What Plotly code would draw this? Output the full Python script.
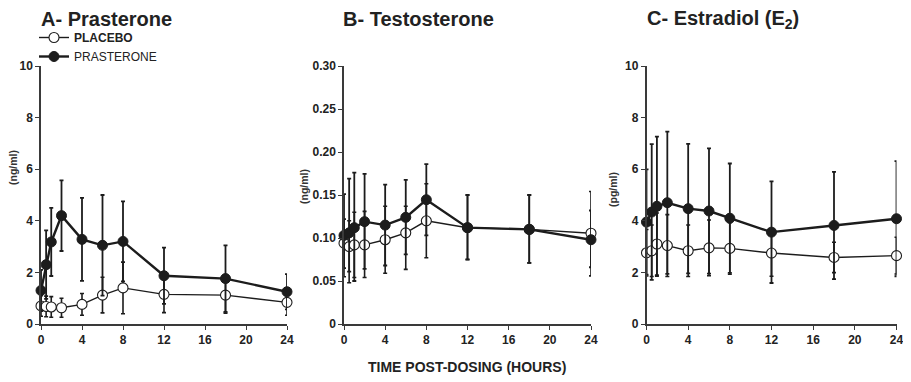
import plotly.graph_objects as go

# ---------------- data ----------------
hours = [0, 0.5, 1, 2, 4, 6, 8, 12, 18, 24]
x_ticks = [0, 4, 8, 12, 16, 20, 24]

panel_titles = ["A- Prasterone", "B- Testosterone", "C- Estradiol (E<sub>2</sub>)"]
y_titles = ["(ng/ml)", "(ng/ml)", "(pg/ml)"]
x_title = "TIME POST-DOSING (HOURS)"
legend_names = ["<b>PLACEBO</b>", "PRASTERONE"]

# Panel A – prasterone (DHEA) serum levels
a_placebo = [0.70, 0.68, 0.66, 0.63, 0.76, 1.12, 1.40, 1.15, 1.12, 0.84]
a_placebo_sd = [0.40, 0.40, 0.40, 0.37, 0.42, 0.69, 1.00, 0.71, 0.70, 0.50]
a_prasterone = [1.30, 2.30, 3.18, 4.20, 3.28, 3.05, 3.20, 1.87, 1.76, 1.25]
a_prasterone_sd = [0.80, 1.33, 1.32, 1.37, 1.61, 1.95, 1.55, 1.09, 1.29, 0.68]
a_yticks = [0, 2, 4, 6, 8, 10]
a_ytext = ["0", "2", "4", "6", "8", "10"]

# Panel B – testosterone
b_placebo = [0.094, 0.090, 0.092, 0.092, 0.098, 0.106, 0.120, 0.112, 0.110, 0.1055]
b_placebo_sd_up = [0.028, 0.030, 0.038, 0.039, 0.039, 0.031, 0.043, 0.038, 0.040, 0.0485]
b_placebo_sd_dn = [0.039, 0.042, 0.038, 0.038, 0.039, 0.0425, 0.043, 0.037, 0.039, 0.0495]
b_prasterone = [0.103, 0.106, 0.112, 0.119, 0.115, 0.124, 0.1445, 0.112, 0.110, 0.098]
b_prasterone_sd_up = [0.048, 0.063, 0.064, 0.0555, 0.047, 0.0435, 0.0415, 0.038, 0.040, 0.034]
b_prasterone_sd_dn = [0.038, 0.045, 0.062, 0.055, 0.047, 0.043, 0.0415, 0.037, 0.039, 0.032]
b_yticks = [0, 0.05, 0.10, 0.15, 0.20, 0.25, 0.30]
b_ytext = ["0", "0.05", "0.10", "0.15", "0.20", "0.25", "0.30"]

# Panel C – estradiol
c_placebo = [2.76, 2.84, 3.10, 3.04, 2.84, 2.95, 2.93, 2.75, 2.58, 2.65]
c_placebo_sd = [0.90, 1.00, 1.20, 1.20, 1.00, 1.08, 1.00, 0.90, 0.59, 0.71]
c_prasterone = [3.95, 4.34, 4.56, 4.70, 4.47, 4.38, 4.10, 3.56, 3.82, 4.08]
c_prasterone_sd = [2.04, 2.63, 2.70, 2.76, 2.51, 2.43, 2.12, 1.97, 2.08, 2.23]
c_yticks = [0, 2, 4, 6, 8, 10]
c_ytext = ["0", "2", "4", "6", "8", "10"]

# ---------------- styling ----------------
# the page body has an 8px margin, so the figure is drawn 8px in from the window edge
OFF = 8
W, H = 911 - OFF, 382 - OFF
PLOT_TOP = 66 - OFF
PLOT_BOT = 324 - OFF
MB = H - PLOT_BOT
PAPER_H = PLOT_BOT
INK = "#1c1c1c"
AXIS = "#3a3a3a"
FONT = "Liberation Sans, Arial, sans-serif"

def px_x(pix):
    return (pix - OFF) / W

def px_y(pix):
    return (PAPER_H - (pix - OFF)) / PAPER_H

x_domains = [[px_x(41), px_x(287)], [px_x(344), px_x(591)], [px_x(646.5), px_x(896.5)]]
y_domain = [0, (PAPER_H - PLOT_TOP) / PAPER_H]
y_ranges = [[0, 10], [0, 0.30], [0, 10]]

panels = [
    (a_placebo, a_placebo_sd, a_placebo_sd, a_prasterone, a_prasterone_sd, a_prasterone_sd, a_yticks, a_ytext),
    (b_placebo, b_placebo_sd_up, b_placebo_sd_dn, b_prasterone, b_prasterone_sd_up, b_prasterone_sd_dn, b_yticks, b_ytext),
    (c_placebo, c_placebo_sd, c_placebo_sd, c_prasterone, c_prasterone_sd, c_prasterone_sd, c_yticks, c_ytext),
]

fig = go.Figure()
layout_axes = {}
tickfont = dict(family=FONT, size=12, color="#222", weight="bold")
for i, (pl, pl_up, pl_dn, pr, pr_up, pr_dn, yt, ytt) in enumerate(panels):
    xa = "x" if i == 0 else f"x{i+1}"
    ya = "y" if i == 0 else f"y{i+1}"
    fig.add_trace(go.Scatter(
        x=hours, y=pl, xaxis=xa, yaxis=ya, mode="lines+markers",
        name=legend_names[0], showlegend=(i == 0),
        line=dict(color=INK, width=1.4),
        marker=dict(symbol="circle", size=10, color="white", line=dict(color=INK, width=1.1)),
        error_y=dict(type="data", symmetric=False, array=pl_up, arrayminus=pl_dn,
                     color=INK, thickness=1.6, width=2),
        cliponaxis=False,
    ))
    fig.add_trace(go.Scatter(
        x=hours, y=pr, xaxis=xa, yaxis=ya, mode="lines+markers",
        name=legend_names[1], showlegend=(i == 0),
        line=dict(color=INK, width=2.4),
        marker=dict(symbol="circle", size=10, color=INK, line=dict(color=INK, width=1)),
        error_y=dict(type="data", symmetric=False, array=pr_up, arrayminus=pr_dn,
                     color=INK, thickness=1.8, width=2),
        cliponaxis=False,
    ))
    xkey = "xaxis" if i == 0 else f"xaxis{i+1}"
    ykey = "yaxis" if i == 0 else f"yaxis{i+1}"
    layout_axes[xkey] = dict(
        domain=x_domains[i], anchor=ya, range=[0, 24], tickvals=x_ticks,
        showline=True, linecolor=AXIS, linewidth=1.5, ticks="outside", ticklen=4,
        tickwidth=1.3, tickcolor=AXIS, showgrid=False, zeroline=False,
        tickfont=tickfont, automargin=False,
    )
    layout_axes[ykey] = dict(
        domain=y_domain, anchor=xa, range=y_ranges[i], tickvals=yt, ticktext=ytt,
        showline=True, linecolor=AXIS, linewidth=1.5, ticks="outside", ticklen=4,
        tickwidth=1.3, tickcolor=AXIS, showgrid=False, zeroline=False,
        tickfont=tickfont, automargin=False,
    )

fig.update_layout(**layout_axes)

annotations = []
title_x = [39.5, 342, 646]
for i, t in enumerate(panel_titles):
    annotations.append(dict(text=f"<b>{t}</b>", xref="paper", yref="paper",
                            x=px_x(title_x[i]), y=px_y(19.5), xanchor="left", yanchor="middle",
                            borderpad=0,
                            showarrow=False, font=dict(family=FONT, size=20, color="#222")))
ytitle_pos = [(13, 168), (304, 187), (613, 190)]
for i, t in enumerate(y_titles):
    annotations.append(dict(text=f"<b>{t}</b>", xref="paper", yref="paper",
                            x=px_x(ytitle_pos[i][0]), y=px_y(ytitle_pos[i][1]),
                            xanchor="center", yanchor="middle", textangle=-90,
                            showarrow=False, font=dict(family=FONT, size=10.5, color="#333")))
annotations.append(dict(text=f"<b>{x_title}</b>", xref="paper", yref="paper",
                        x=px_x(467), y=px_y(367), xanchor="center", yanchor="middle",
                        showarrow=False, font=dict(family=FONT, size=14, color="#222")))

fig.update_layout(
    width=W, height=H,
    margin=dict(l=0, r=0, t=0, b=MB, autoexpand=False),
    paper_bgcolor="white", plot_bgcolor="white",
    annotations=annotations,
    showlegend=True,
    legend=dict(x=px_x(34), y=px_y(23), xanchor="left", yanchor="top",
                bgcolor="rgba(0,0,0,0)", font=dict(family=FONT, size=12, color="#222"),
                itemwidth=30, tracegroupgap=0),
    font=dict(family=FONT),
)

fig.write_html("out.html")
